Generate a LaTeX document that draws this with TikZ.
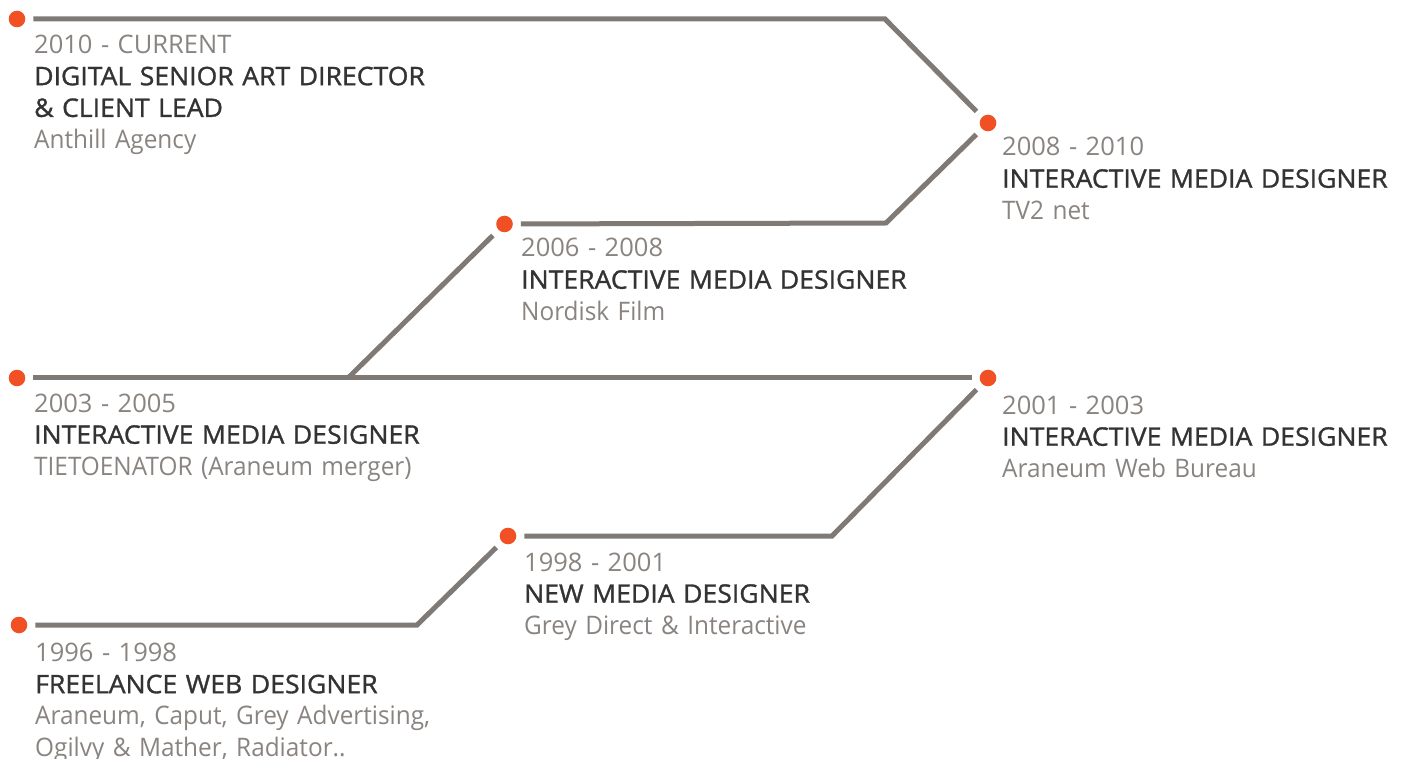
\documentclass[tikz,border=0pt]{standalone}
\usepackage{fontspec}
\setmainfont{Open Sans}
\newfontfamily\titlefont[FakeStretch=1.043,FakeBold=1.2]{Open Sans}
\newfontfamily\placefont[FakeStretch=0.955]{Open Sans}
\definecolor{linec}{HTML}{807A76}
\definecolor{dotc}{HTML}{F05023}
\definecolor{datec}{HTML}{8A8480}
\definecolor{titlec}{HTML}{333333}
\newcommand\jobdate{\normalfont\color{datec}}
\newcommand\jobtitle{\titlefont\color{titlec}}
\newcommand\jobplace{\placefont\color{datec}}
\begin{document}
\begin{tikzpicture}[x=1pt,y=-1pt,
  dot/.style={circle, fill=dotc, minimum size=16.6pt, inner sep=0pt, outer sep=8pt},
  link/.style={draw=linec, line width=5pt},
  entry/.style={anchor=base west, inner sep=0pt, text width=440pt, align=left,
    font={\fontsize{25.5}{31.7}\selectfont}},
]
\useasboundingbox[fill=white] (0,0) rectangle (1409,759);

% milestones
\node[dot] (d1) at (17,19) {};
\node[dot] (d2) at (988,123) {};
\node[dot] (d3) at (504.5,224) {};
\node[dot] (d4) at (17,378) {};
\node[dot] (d5) at (988,378) {};
\node[dot] (d6) at (508,536) {};
\node[dot] (d7) at (19,625) {};

% bends of the track
\coordinate (c1) at (885,19);
\coordinate (c2) at (886,223);
\coordinate (c3) at (348,378);
\coordinate (c4) at (832,536);
\coordinate (c5) at (417,625);

% track
\draw[link] (d1) -- (c1) -- (d2);
\draw[link] (d2) -- (c2) -- (d3);
\draw[link] (d3) -- (c3);
\draw[link] (d4) -- (d5);
\draw[link] (d5) -- (c4) -- (d6);
\draw[link] (d6) -- (c5) -- (d7);

% labels
\node[entry] (t1) at (34,53.5) {\jobdate 2010 - CURRENT\\
  \jobtitle DIGITAL SENIOR ART DIRECTOR\\
  \jobtitle \& CLIENT LEAD\\
  \jobplace Anthill Agency};
\node[entry] (t2) at (1002,156) {\jobdate 2008 - 2010\\
  \jobtitle INTERACTIVE MEDIA DESIGNER\\
  \jobplace TV2 net};
\node[entry] (t3) at (521,257) {\jobdate 2006 - 2008\\
  \jobtitle INTERACTIVE MEDIA DESIGNER\\
  \jobplace Nordisk Film};
\node[entry] (t4) at (34,412) {\jobdate 2003 - 2005\\
  \jobtitle INTERACTIVE MEDIA DESIGNER\\
  \jobplace TIETOENATOR (Araneum merger)};
\node[entry] (t5) at (1002,414) {\jobdate 2001 - 2003\\
  \jobtitle INTERACTIVE MEDIA DESIGNER\\
  \jobplace Araneum Web Bureau};
\node[entry] (t6) at (524,571) {\jobdate 1998 - 2001\\
  \jobtitle NEW MEDIA DESIGNER\\
  \jobplace Grey Direct \& Interactive};
\node[entry] (t7) at (35,661.5) {\jobdate 1996 - 1998\\
  \jobtitle FREELANCE WEB DESIGNER\\
  \jobplace Araneum, Caput, Grey Advertising,\\
  \jobplace Ogilvy \& Mather, Radiator..};
\end{tikzpicture}
\end{document}
